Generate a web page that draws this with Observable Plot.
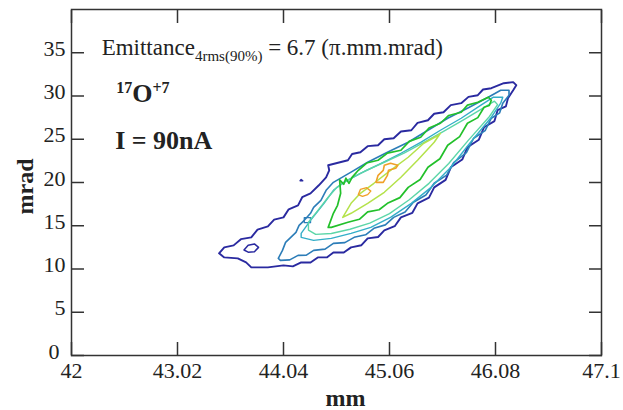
<!DOCTYPE html>
<html><head><meta charset="utf-8">
<script src="https://cdn.jsdelivr.net/npm/d3@7"></script>
<script src="https://cdn.jsdelivr.net/npm/@observablehq/plot@0.6"></script>
<style>
body{margin:0;background:#fff;}
#chart svg, #chart svg text{font-family:"Liberation Serif","Times New Roman",serif;}
</style></head><body><div id="chart"></div>
<script>
// ---- axes ----
const xTicks = [42, 43.02, 44.04, 45.06, 46.08, 47.1];
const xTickLabels = ["42", "43.02", "44.04", "45.06", "46.08", "47.1"];
const yTicks = [0, 5, 10, 15, 20, 25, 30, 35];
const xDomain = [42, 47.1];
const yDomain = [0, 40];

// ---- contour levels (outer -> inner) ----
const levels = ["L1", "L2", "L3", "L4", "L5", "L6", "L7"];
const levelColors = ["#2a2aa0", "#2c7db8", "#33aec8", "#5cd6a8", "#22c02a", "#b4e24a", "#f0a028"];

// contour paths: [mm, mrad]
const contour1 = [[43.42,11.81],[43.47,12.5],[43.56,12.73],[43.63,13.45],[43.73,13.66],[43.79,14.55],[43.89,14.93],[43.95,15.7],[44.04,15.97],[44.09,16.9],[44.18,17.36],[44.22,18.3],[44.30,18.75],[44.38,19.68],[44.45,20.6],[44.48,21.41],[44.47,21.99],[44.66,22.57],[44.70,23.3],[44.78,23.5],[44.85,24.2],[44.95,24.31],[45.01,25.0],[45.10,25.12],[45.17,25.9],[45.27,26.04],[45.33,26.9],[45.43,27.2],[45.49,27.95],[45.58,28.12],[45.65,28.95],[45.75,29.17],[45.82,29.9],[45.91,30.09],[45.96,30.75],[46.04,30.9],[46.16,31.48],[46.25,31.6],[46.28,31.25],[46.25,30.67],[46.20,29.75],[46.18,28.8],[46.10,28.36],[46.07,27.1],[45.97,26.39],[45.92,24.95],[45.81,24.07],[45.76,22.65],[45.65,21.76],[45.60,20.3],[45.49,19.44],[45.44,18.25],[45.33,17.59],[45.28,16.5],[45.17,15.97],[45.11,14.95],[45.01,14.47],[44.95,13.7],[44.85,13.54],[44.79,12.75],[44.69,12.5],[44.62,11.9],[44.52,11.92],[44.46,11.35],[44.37,11.34],[44.30,10.75],[44.21,10.76],[44.13,10.3],[44.04,10.42],[43.89,10.19],[43.73,10.19],[43.68,10.76],[43.60,11.23],[43.47,11.34]];
const contour2 = [[43.99,11.23],[44.03,12.15],[44.06,13.08],[44.11,13.66],[44.16,14.24],[44.19,15.05],[44.24,15.63],[44.30,16.44],[44.33,17.13],[44.40,17.94],[44.45,19.1],[44.52,20.02],[44.69,21.2],[44.85,22.34],[45.04,23.5],[45.24,24.65],[45.43,26.04],[45.62,27.43],[45.81,28.59],[46.01,29.86],[46.13,30.67],[46.21,30.67],[46.21,30.09],[46.15,29.17],[46.12,28.05],[46.04,27.43],[45.98,26.0],[45.87,25.12],[45.80,23.45],[45.68,22.34],[45.61,20.85],[45.49,19.91],[45.41,18.55],[45.29,17.71],[45.21,16.6],[45.10,15.97],[45.02,15.1],[44.91,14.7],[44.83,13.95],[44.72,13.66],[44.63,13.05],[44.52,12.96],[44.44,12.3],[44.33,12.15],[44.26,11.6],[44.18,11.57],[44.10,11.05],[44.01,11.0]];
const contour3 = [[44.21,14.12],[44.30,15.63],[44.43,17.59],[44.52,19.1],[44.62,20.02],[44.78,21.06],[44.98,22.22],[45.17,23.38],[45.36,24.65],[45.55,26.04],[45.75,27.43],[45.94,28.94],[46.06,29.86],[46.15,29.86],[46.13,29.17],[46.04,27.55],[45.84,24.65],[45.65,21.76],[45.46,19.44],[45.27,17.59],[45.07,15.97],[44.88,14.81],[44.69,14.12],[44.50,13.54],[44.33,13.31],[44.21,13.66]];
const contour4 = [[44.28,15.4],[44.36,16.6],[44.47,18.3],[44.55,19.4],[44.66,20.3],[44.82,21.3],[45.02,22.4],[45.20,23.4],[45.40,24.7],[45.58,25.9],[45.78,27.3],[45.96,28.6],[46.07,29.4],[46.10,29.0],[46.02,27.6],[45.82,24.9],[45.63,22.2],[45.44,19.9],[45.25,18.0],[45.06,16.4],[44.87,15.3],[44.68,14.6],[44.50,14.1],[44.35,14.0],[44.28,14.5]];
const contour5 = [[44.47,14.81],[44.52,16.44],[44.56,17.36],[44.59,18.75],[44.58,20.3],[44.62,19.8],[44.64,20.5],[44.67,19.9],[44.70,20.6],[44.76,21.41],[44.84,22.25],[44.95,22.57],[45.04,23.4],[45.17,23.73],[45.25,24.75],[45.36,25.23],[45.44,26.3],[45.55,26.85],[45.63,27.75],[45.75,28.12],[45.81,28.95],[45.91,29.28],[46.01,29.86],[46.04,29.51],[46.02,28.9],[45.97,28.7],[45.91,27.5],[45.81,26.85],[45.735,25.3],[45.62,24.31],[45.545,22.75],[45.43,21.76],[45.355,20.35],[45.24,19.44],[45.16,18.25],[45.04,17.59],[44.96,16.85],[44.85,16.6],[44.77,15.75],[44.66,15.4],[44.50,14.81]];
const contour6 = [[44.61,15.97],[44.69,17.59],[44.78,18.75],[44.91,19.91],[45.07,21.41],[45.24,22.92],[45.39,24.54],[45.53,25.46],[45.55,25.69],[45.49,24.65],[45.33,22.57],[45.17,20.6],[45.01,18.87],[44.85,17.59],[44.69,16.44]];
const contour7a = [[44.93,20.02],[44.95,20.83],[45.00,21.41],[45.01,21.99],[45.07,22.22],[45.14,21.99],[45.12,21.64],[45.05,21.41],[45.04,20.83],[45.00,20.02]];
const contour7b = [[44.76,18.6],[44.78,19.2],[44.84,19.4],[44.88,19.0],[44.85,18.6],[44.80,18.4]];
const island1a = [[43.66,12.2],[43.70,12.75],[43.76,12.9],[43.80,12.5],[43.76,12.0],[43.70,11.95]];
const island1b = [[44.20,20.2],[44.21,20.35],[44.225,20.2]];
const island2a = [[44.24,15.35],[44.24,15.95],[44.30,15.95],[44.30,15.35]];

const pieces = [
  {id: "c1", level: "L1", pts: contour1, w: 1.9},
  {id: "i1a", level: "L1", pts: island1a, w: 1.5},
  {id: "i1b", level: "L1", pts: island1b, w: 1.5},
  {id: "c2", level: "L2", pts: contour2, w: 1.6},
  {id: "i2a", level: "L2", pts: island2a, w: 1.3},
  {id: "c3", level: "L3", pts: contour3, w: 1.4},
  {id: "c4", level: "L4", pts: contour4, w: 1.4},
  {id: "c5", level: "L5", pts: contour5, w: 1.7},
  {id: "c6", level: "L6", pts: contour6, w: 1.5},
  {id: "c7a", level: "L7", pts: contour7a, w: 1.6},
  {id: "c7b", level: "L7", pts: contour7b, w: 1.4}
];
const rows = pieces.flatMap(p => p.pts.map(([x, y]) => ({x, y, id: p.id, level: p.level})));

const notes = [
  {x: 42.29, y: 35, key: "emit", text: "Emittance4rms(90%) = 6.7 (π.mm.mrad)"},
  {x: 42.43, y: 30, key: "ion", text: "17O+7"},
  {x: 42.42, y: 25, key: "cur", text: "I = 90nA"}
];

const ink = "#222";
const serif = "Liberation Serif";
const chart = Plot.plot({
  width: 623, height: 410,
  marginLeft: 71, marginRight: 22, marginTop: 9, marginBottom: 55,
  x: {domain: xDomain},
  y: {domain: yDomain},
  color: {type: "ordinal", domain: levels, range: levelColors},
  style: {background: "#fff", color: ink, fontFamily: serif},
  marks: [
    ...pieces.map(p => Plot.line(rows.filter(r => r.id === p.id), {x: "x", y: "y", stroke: "level", strokeWidth: p.w, curve: "linear-closed", strokeLinejoin: "round"})),
    Plot.axisX(xTicks, {anchor: "bottom", tickSize: -13, tickFormat: () => "", label: null, stroke: "#333", strokeWidth: 1.5}),
    Plot.axisX(xTicks, {anchor: "top", tickSize: -13, tickFormat: () => "", label: null, stroke: "#333", strokeWidth: 1.5}),
    Plot.axisY(yTicks, {anchor: "left", tickSize: -13, tickFormat: () => "", label: null, stroke: "#333", strokeWidth: 1.5}),
    Plot.axisY(yTicks, {anchor: "right", tickSize: -13, tickFormat: () => "", label: null, stroke: "#333", strokeWidth: 1.5}),
    Plot.axisX(xTicks, {anchor: "bottom", tickSize: 0, tickPadding: 7, tickFormat: (d, i) => xTickLabels[i], label: null, fontSize: 22, fontFamily: serif, fill: ink}),
    Plot.axisY(yTicks.filter(d => d !== 0), {anchor: "left", tickSize: 0, tickPadding: 6, dy: -4, label: null, fontSize: 22, fontFamily: serif, fill: ink}),
    Plot.axisY(yTicks.filter(d => d === 0), {anchor: "left", tickSize: 0, tickPadding: 12, dy: -4, label: null, fontSize: 22, fontFamily: serif, fill: ink}),
    Plot.frame({stroke: "#333", strokeWidth: 1.5}),
    Plot.text(["mm"], {frameAnchor: "bottom", textAnchor: "middle", dx: 9, dy: 50, lineAnchor: "bottom", fontSize: 24, fontWeight: "bold", fontFamily: serif, fill: ink}),
    Plot.text(["mrad"], {frameAnchor: "left", textAnchor: "middle", dx: -39, dy: 4, rotate: -90, lineAnchor: "bottom", fontSize: 24, fontWeight: "bold", fontFamily: serif, fill: ink}),
    Plot.text(notes.filter(d => d.key === "emit"), {x: "x", y: "y", text: "text", textAnchor: "start", lineAnchor: "middle", dy: -5, fontSize: 23, fontFamily: serif, fill: ink, className: "note-emit"}),
    Plot.text(notes.filter(d => d.key === "ion"), {x: "x", y: "y", text: "text", textAnchor: "start", lineAnchor: "middle", dy: -2, fontSize: 26, fontWeight: "bold", fontFamily: serif, fill: ink, className: "note-ion"}),
    Plot.text(notes.filter(d => d.key === "cur"), {x: "x", y: "y", text: "text", textAnchor: "start", lineAnchor: "middle", dy: 1, fontSize: 26, fontWeight: "bold", fontFamily: serif, fill: ink, className: "note-cur"})
  ]
});
document.getElementById("chart").appendChild(chart);

// rich text: subscripts / superscripts
const NS = "http://www.w3.org/2000/svg";
function rich(sel, parts) {
  const t = chart.querySelector(sel);
  if (!t) return;
  while (t.firstChild) t.removeChild(t.firstChild);
  for (const p of parts) {
    const s = document.createElementNS(NS, "tspan");
    s.textContent = p.t;
    if (p.size) s.setAttribute("font-size", p.size);
    if (p.dy) s.setAttribute("dy", p.dy);
    t.appendChild(s);
  }
}
rich(".note-emit text", [{t: "Emittance"}, {t: "4rms(90%)", size: 15, dy: 6}, {t: " = 6.7 (π.mm.mrad)", dy: -6}]);
rich(".note-ion text", [{t: "17", size: 16, dy: -9}, {t: "O", dy: 9}, {t: "+7", size: 16, dy: -9}]);
</script></body></html>
